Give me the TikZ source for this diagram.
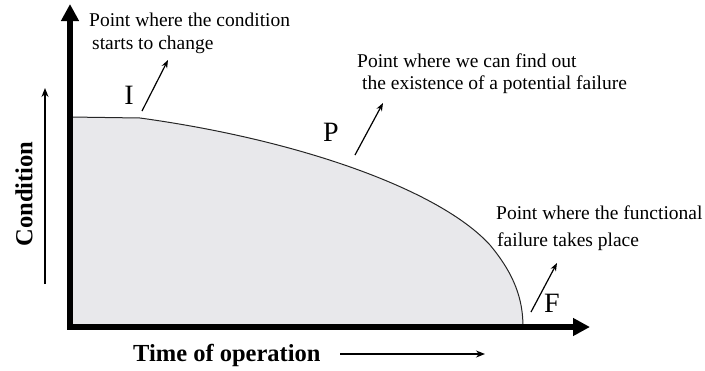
\documentclass[tikz,border=0pt]{standalone}
\usepackage{fontspec}
\setmainfont{Liberation Serif}
\usetikzlibrary{arrows.meta}
\definecolor{fillgray}{RGB}{232,232,235}
\begin{document}
\begin{tikzpicture}[x=1pt,y=-1pt,
  axis/.style={line width=5.5pt, line join=miter, {Triangle[length=17pt,width=17pt]}-{Triangle[length=17pt,width=17pt]}},
  note/.style={font=\fontsize{19.5}{22}\selectfont, anchor=west, inner sep=0pt},
  letter/.style={font=\fontsize{28}{30}\selectfont, inner sep=0pt},
  pointer/.style={line width=1.2pt, -{Stealth[length=8pt,width=6pt]}},
  thinarrow/.style={line width=1.3pt, -{Stealth[length=9pt,width=7pt]}},
  axtitle/.style={font=\fontsize{24.5}{26}\selectfont\bfseries, inner sep=0pt},
  curve/.style={line width=1pt, black!85},
]
\useasboundingbox (0,0) rectangle (705,370);
% region under the curve
\fill[fillgray] (70,327) -- (70,117) -- (140,118)
  .. controls (300,140) and (440,190) .. (490,245)
  .. controls (515,275) and (523,300) .. (523,327) -- cycle;
\draw[curve] (70,117) -- (140,118)
  .. controls (300,140) and (440,190) .. (490,245)
  .. controls (515,275) and (523,300) .. (523,327);
% axes
\coordinate (ytip) at (70,4);
\coordinate (O) at (70,327);
\coordinate (xtip) at (590,327);
\draw[axis] (ytip) -- (O) -- (xtip);
% axis titles
\node[axtitle, rotate=90] (cond) at (24,194) {Condition};
\coordinate (cA) at (45,284);
\coordinate (cB) at (45,88);
\draw[thinarrow] (cA) -- (cB);
\node[axtitle, anchor=west] (time) at (133,355) {Time of operation};
\coordinate (tA) at (340,354);
\coordinate (tB) at (485,354);
\draw[thinarrow] (tA) -- (tB);
% letters
\node[letter] (I) at (129,95) {I};
\node[letter] (P) at (331,132) {P};
\node[letter] (F) at (552,303) {F};
% notes
\node[note] (tI1) at (89,20) {Point where the condition};
\node[note] (tI2) at (92,45) {starts to change};
\node[note] (tP1) at (357,61) {Point where we can find out};
\node[note] (tP2) at (362,85) {the existence of a potential failure};
\node[note] (tF1) at (496,213) {Point where the functional};
\node[note] (tF2) at (497,242) {failure takes place};
% pointers
\coordinate (iA) at (142,111); \coordinate (iB) at (168,60);
\coordinate (pA) at (355,155); \coordinate (pB) at (383,103);
\coordinate (fA) at (531,312); \coordinate (fB) at (557,263);
\draw[pointer] (iA) -- (iB);
\draw[pointer] (pA) -- (pB);
\draw[pointer] (fA) -- (fB);
\end{tikzpicture}
\end{document}
